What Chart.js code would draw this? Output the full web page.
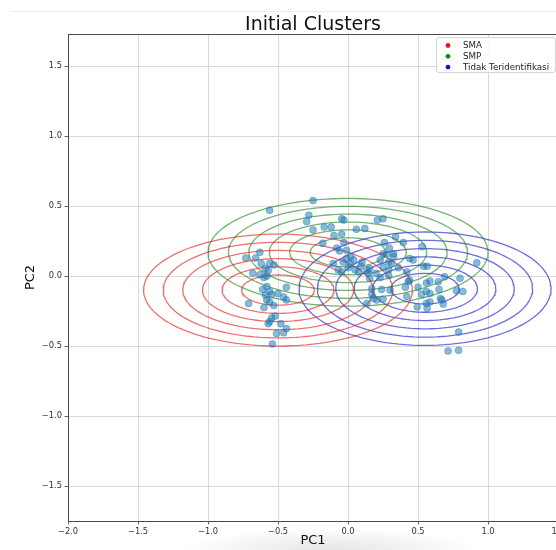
<!DOCTYPE html>
<html>
<head>
<meta charset="utf-8">
<script src="https://cdn.jsdelivr.net/npm/chart.js@4/dist/chart.umd.min.js"></script>
<style>
  html, body { margin: 0; padding: 0; background: #ffffff; overflow: hidden; }
  #shade { position: absolute; left: 180px; top: 528px; width: 300px; height: 44px;
           background: radial-gradient(ellipse at center, rgba(0,0,0,0.10) 0%, rgba(0,0,0,0.04) 45%, rgba(0,0,0,0) 70%); }
  #wrap { position: absolute; left: 0; top: 0; width: 600px; height: 550px; }
  #topline { position: absolute; left: 10px; right: 0; top: 11px; height: 0; border-top: 1px solid #ececec; }
</style>
</head>
<body>
<div id="topline"></div>
<div id="shade"></div>
<div id="wrap"><canvas id="c"></canvas></div>
<script>
// ---- data ----
const chartTitle = 'Initial Clusters';
const xLabel = 'PC1';
const yLabel = 'PC2';
const xTickValues = [-2.0, -1.5, -1.0, -0.5, 0.0, 0.5, 1.0, 1.5];
const yTickValues = [-1.5, -1.0, -0.5, 0.0, 0.5, 1.0, 1.5];

const pcX = [
  -0.56,-0.63,-0.73,-0.66,-0.62,-0.56,-0.53,-0.59,-0.57,-0.68,-0.63,-0.60,-0.58,-0.44,-0.61,-0.58,-0.56,-0.59,-0.545,-0.50,
  -0.46,-0.44,-0.71,-0.58,-0.56,-0.53,-0.60,-0.52,-0.545,-0.56,-0.57,-0.48,-0.44,-0.46,-0.51,-0.54,
  -0.25,-0.28,-0.295,-0.25,-0.17,-0.12,-0.045,-0.03,-0.10,-0.045,-0.18,-0.03,-0.08,-0.06,-0.01,0.06,0.12,0.21,0.25,0.34,
  0.26,0.395,0.53,0.295,0.325,0.275,0.325,0.25,
  -0.035,0.04,0.10,0.05,0.135,0.155,-0.07,-0.045,-0.01,-0.105,0.015,0.075,0.145,0.23,0.29,0.25,0.29,0.31,0.44,0.465,
  0.54,0.565,0.92,0.42,0.155,0.23,0.29,0.44,0.43,0.585,0.56,0.645,0.69,0.80,0.17,0.24,0.30,0.50,0.41,0.65,
  0.775,0.82,0.17,0.18,0.205,0.25,0.525,0.56,0.585,0.42,0.66,0.67,0.585,0.56,0.68,0.495,0.565,0.135,0.79,0.715,
  0.79,0.0,0.09,0.20,0.36,0.02
];
const pcY = [
  0.47,0.17,0.13,0.13,0.09,0.09,0.08,0.055,0.04,0.02,0.01,-0.01,0.0,-0.08,-0.095,-0.075,-0.11,-0.135,-0.13,-0.125,
  -0.15,-0.17,-0.195,-0.17,-0.185,-0.21,-0.225,-0.285,-0.30,-0.325,-0.34,-0.34,-0.375,-0.405,-0.41,-0.485,
  0.54,0.435,0.39,0.33,0.35,0.35,0.41,0.40,0.29,0.30,0.235,0.24,0.20,0.18,0.185,0.335,0.34,0.40,0.41,0.28,
  0.24,0.24,0.21,0.20,0.16,0.155,0.14,0.16,
  0.10,0.115,0.10,0.045,0.045,0.055,0.045,0.03,0.125,0.09,0.09,0.03,0.02,0.115,0.10,0.065,0.045,0.09,0.125,0.115,
  0.07,0.07,0.095,0.03,-0.015,-0.01,0.005,-0.03,-0.04,-0.035,-0.05,-0.04,-0.005,-0.015,-0.09,-0.095,-0.10,-0.08,-0.08,-0.095,
  -0.105,-0.11,-0.13,-0.16,-0.17,-0.165,-0.13,-0.11,-0.125,-0.145,-0.16,-0.17,-0.185,-0.195,-0.20,-0.22,-0.23,-0.195,-0.40,-0.535,
  -0.53,0.06,0.07,0.02,0.06,0.14
];

// cluster contour ellipses (initial GMM components)
const clusterNames   = ['SMA', 'SMP', 'Tidak Teridentifikasi'];
const clusterCenterX = [-0.50, 0.00, 0.55];
const clusterCenterY = [-0.10, 0.17, -0.09];
const clusterSemiX   = [0.96, 1.00, 0.90];   // outermost contour half-width
const clusterSemiY   = [0.40, 0.385, 0.405]; // outermost contour half-height
const contourScales  = [0.27, 0.416, 0.562, 0.708, 0.854, 1.0];
const clusterLineColors   = ['rgba(225,40,40,0.66)', 'rgba(20,130,20,0.6)', 'rgba(20,20,200,0.62)'];
const clusterLegendColors = ['#e8141c', '#138a13', '#1414d0'];

// ---- build datasets ----
const FONT = "'DejaVu Sans', 'Liberation Sans', sans-serif";
const datasets = [];
datasets.push({
  label: 'points',
  data: pcX.map((x, i) => ({ x: x, y: pcY[i] })),
  showLine: false,
  pointRadius: 3.5,
  pointBackgroundColor: 'rgba(31,119,180,0.52)',
  pointBorderColor: 'rgba(31,119,180,0.6)',
  pointBorderWidth: 0.6
});
const STEPS = 120;
for (let c = 0; c < clusterNames.length; c++) {
  for (const s of contourScales) {
    const pts = [];
    for (let k = 0; k <= STEPS; k++) {
      const a = 2 * Math.PI * k / STEPS;
      pts.push({ x: clusterCenterX[c] + s * clusterSemiX[c] * Math.cos(a),
                 y: clusterCenterY[c] + s * clusterSemiY[c] * Math.sin(a) });
    }
    datasets.push({
      label: clusterNames[c],
      data: pts,
      showLine: true,
      fill: false,
      pointRadius: 0,
      borderColor: clusterLineColors[c],
      borderWidth: 1.3,
      tension: 0
    });
  }
}

const fmt = v => (v < 0 ? '\u2212' : '') + Math.abs(v).toFixed(1);

const overlay = {
  id: 'overlay',
  afterDraw(chart) {
    const ctx = chart.ctx, ca = chart.chartArea;
    ctx.save();
    // spines
    ctx.strokeStyle = '#4a4a4a';
    ctx.lineWidth = 1;
    ctx.strokeRect(Math.round(ca.left) + 0.5, Math.round(ca.top) + 0.5,
                   Math.round(ca.right - ca.left), Math.round(ca.bottom - ca.top));
    // title
    ctx.fillStyle = '#111';
    ctx.font = '19px ' + FONT;
    ctx.textAlign = 'center';
    ctx.textBaseline = 'alphabetic';
    ctx.fillText(chartTitle, (ca.left + ca.right) / 2, 29.5);
    // legend
    const lx = 436, ly = 37, lw = 119, lh = 35;
    ctx.beginPath();
    if (ctx.roundRect) ctx.roundRect(lx + 0.5, ly + 0.5, lw, lh, 2.5); else ctx.rect(lx + 0.5, ly + 0.5, lw, lh);
    ctx.fillStyle = 'rgba(255,255,255,0.85)';
    ctx.fill();
    ctx.strokeStyle = '#d4d4d4';
    ctx.stroke();
    ctx.font = '8.7px ' + FONT;
    ctx.textAlign = 'left';
    ctx.textBaseline = 'middle';
    for (let i = 0; i < clusterNames.length; i++) {
      const yy = ly + 8.5 + i * 10.8;
      ctx.beginPath();
      ctx.arc(448, yy, 2.4, 0, 2 * Math.PI);
      ctx.fillStyle = clusterLegendColors[i];
      ctx.fill();
      ctx.fillStyle = '#222';
      ctx.fillText(clusterNames[i], 463, yy + 0.5);
    }
    ctx.restore();
  }
};

const axisCommon = {
  type: 'linear',
  grid: { color: '#d6d6d6', lineWidth: 0.9, tickColor: '#555', tickLength: 3.5, drawTicks: true },
  border: { display: true, color: '#4a4a4a', width: 1 },
  ticks: { font: { size: 8.3, family: FONT }, color: '#333', padding: 2.5, callback: v => fmt(v), autoSkip: false, maxRotation: 0 }
};

new Chart(document.getElementById('c'), {
  type: 'scatter',
  data: { datasets: datasets },
  plugins: [overlay],
  options: {
    responsive: true,
    maintainAspectRatio: false,
    devicePixelRatio: 1,
    animation: false,
    events: [],
    layout: { padding: { top: 34, right: 42, left: 0, bottom: 0 } },
    plugins: { legend: { display: false }, tooltip: { enabled: false }, title: { display: false } },
    scales: {
      x: Object.assign({}, axisCommon, {
        min: -2.0, max: 1.5,
        afterBuildTicks: s => { s.ticks = xTickValues.map(v => ({ value: v })); },
        afterFit: s => { s.height = 29; },
        title: { display: true, text: xLabel, font: { size: 13, family: FONT }, color: '#111', padding: { top: 0, bottom: 1.5 } }
      }),
      y: Object.assign({}, axisCommon, {
        min: -1.75, max: 1.73,
        afterBuildTicks: s => { s.ticks = yTickValues.map(v => ({ value: v })); },
        afterFit: s => { s.width = 68; },
        title: { display: true, text: yLabel, font: { size: 13, family: FONT }, color: '#111', padding: { top: 23, bottom: 0 } }
      })
    }
  }
});
</script>
</body>
</html>
